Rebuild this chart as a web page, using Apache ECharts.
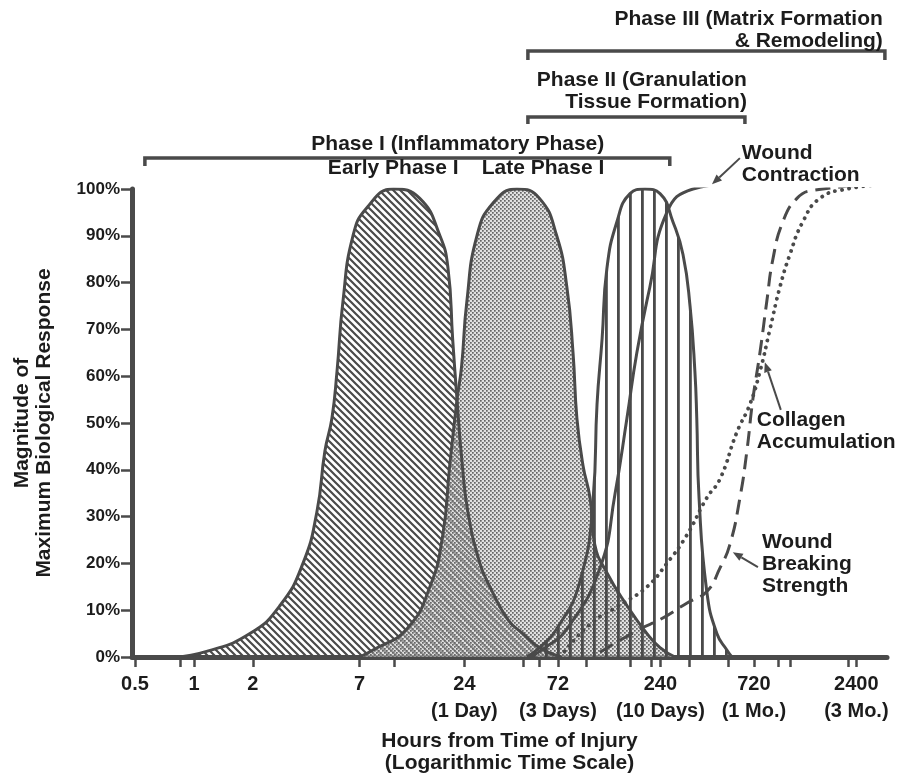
<!DOCTYPE html>
<html><head><meta charset="utf-8">
<script src="https://cdn.jsdelivr.net/npm/echarts@6/dist/echarts.min.js"></script>
<style>html,body{margin:0;padding:0;background:#fff}#c{width:907px;height:774px}</style>
</head><body><div id="c"></div>
<script>
// ---- axis ticks ----
const tickHours = [0.5, 1, 2, 7, 24, 72, 240, 720, 2400];
const tickLabels = ['0.5', '1', '2', '7', '24\n(1 Day)', '72\n(3 Days)', '240\n(10 Days)', '720\n(1 Mo.)', '2400\n(3 Mo.)'];
const minorTickHours = [0.85, 10.5, 48, 58, 100, 168, 215, 336, 530, 960, 1110, 2190];
const xRangeHours = [0.483, 3440];
const yTickValues = [0, 10, 20, 30, 40, 50, 60, 70, 80, 90, 100];

// ---- curves (hours, % of maximum response) ----
const earlyHours = [0.8, 1.16, 1.93, 2.75, 3.6, 4.24, 4.66, 5.06, 5.37, 5.76, 6.48, 7.63, 10.4, 14.2, 18, 19.8, 20.9, 22, 23.3, 25, 28.8, 32.4, 40, 47.7, 58, 74];
const earlyPct   = [0, 1.2, 5, 11, 20, 31, 44, 51, 61, 76, 90, 96, 100, 98, 90, 83, 68, 55, 42, 31, 20, 15, 8, 5, 2, 0];

const lateHours = [7, 8.2, 12.2, 16, 18.6, 20.2, 22, 23.2, 24.7, 27.8, 33.6, 44.5, 58, 71, 80, 86, 90, 96.6, 105, 111, 128, 162, 205, 239, 285];
const latePct   = [0, 1.5, 6, 15, 26, 41, 55, 62, 76, 90, 97, 100, 98, 90, 79, 65, 51, 41, 34, 24, 18, 11, 5, 2, 0];

const phase2Hours = [50, 58, 71, 93, 109, 114, 121, 128, 144, 168, 200, 239, 278, 313, 340, 360, 368, 378, 414, 466, 524, 556];
const phase2Pct   = [0, 2, 6, 16, 34, 54, 68, 83, 93, 99, 100, 99, 93, 86, 75, 61, 51, 34, 14, 5, 1.5, 0];

const contractionHours = [52, 62, 80, 118, 141, 162, 182, 212, 259, 352, 524];
const contractionPct   = [0, 2, 6, 19, 35, 51, 65, 79, 95, 100, 101];

const collagenHours = [74, 105, 155, 205, 259, 327, 414, 483, 589, 687, 773, 869, 977, 1099, 1280, 1563, 2146, 3356];
const collagenPct   = [0, 7, 11.5, 15, 20, 26, 34, 38, 48, 54, 61, 70, 79, 86, 93, 98, 100, 101];

const strengthHours = [118, 189, 239, 327, 414, 483, 543, 611, 663, 711, 773, 838, 900, 1012, 1194, 1439, 3356];
const strengthPct   = [1, 6, 8, 11.5, 14, 19, 24, 34, 44, 55, 65, 76, 85, 93, 98, 99.7, 101];

// ---- phase brackets (hours span, level in % units above the plot) ----
const bracketStartHours = [0.562, 50.6, 50.6];
const bracketEndHours   = [268, 648, 3356];
const bracketLevel      = [106.6, 115.4, 129.5];
const bracketTickPx     = [8, 7, 9];

// ---- text annotations (anchor in hours / %) ----
const noteTexts  = ['Phase III (Matrix Formation\n& Remodeling)', 'Phase II (Granulation\nTissue Formation)', 'Phase I (Inflammatory Phase)', 'Early Phase I', 'Late Phase I', 'Wound\nContraction', 'Collagen\nAccumulation', 'Wound\nBreaking\nStrength'];
const noteHours  = [3275, 663, 22.2, 10.4, 60.4, 625, 745, 791];
const notePct    = [134.0, 120.8, 109.6, 104.5, 104.5, 105.4, 48.3, 19.8];
const noteAlign  = ['right', 'right', 'center', 'center', 'center', 'left', 'left', 'left'];

// ---- arrows (tail -> head, hours / %) ----
const arrowTailHours = [611, 988, 755];
const arrowTailPct   = [106.6, 52.8, 19.2];
const arrowHeadHours = [440, 819, 562];
const arrowHeadPct   = [101, 63, 22.4];

const INK = '#4a4a4a';
const TEXT = '#1c1c1c';
const FONT = '"Liberation Sans", Arial, Helvetica, sans-serif';
const L = Math.log10;
const pts = (h, p) => h.map((v, i) => [L(v), p[i]]);

function makeCanvas(w, h, draw) {
  const c = document.createElement('canvas');
  c.width = w; c.height = h;
  draw(c.getContext('2d'), w, h);
  return c;
}
const diagHatch = makeCanvas(7, 7, (ctx, s) => {
  ctx.strokeStyle = INK; ctx.lineWidth = 2.2;
  ctx.beginPath();
  [-s, 0, s].forEach(o => { ctx.moveTo(o - 1, -1); ctx.lineTo(o + s + 1, s + 1); });
  ctx.stroke();
});
const stipple = makeCanvas(4, 4, (ctx) => {
  ctx.fillStyle = 'rgba(205,205,205,0.6)';
  ctx.fillRect(0, 0, 4, 4);
  ctx.fillStyle = '#666';
  ctx.fillRect(0, 0, 1.7, 1.7);
  ctx.fillRect(2, 2, 1.7, 1.7);
});
const vertHatch = makeCanvas(12, 4, (ctx) => {
  ctx.fillStyle = INK;
  ctx.fillRect(5, 0, 2.8, 4);
});

const chart = echarts.init(document.getElementById('c'), null, { renderer: 'canvas' });

const SMOOTH = 0.5;
const areaSeries = (name, h, p, img) => ({
  type: 'line', name, data: pts(h, p), smooth: SMOOTH,
  showSymbol: false, silent: true, z: 1,
  lineStyle: { opacity: 0 },
  areaStyle: { color: { image: img, repeat: 'repeat' }, opacity: 1 }
});
const lineSeries = (name, h, p, style) => ({
  type: 'line', name, data: pts(h, p), smooth: SMOOTH,
  showSymbol: false, silent: true, z: 3,
  lineStyle: Object.assign({ color: INK, width: 3 }, style)
});

chart.setOption({
  animation: false,
  backgroundColor: '#fff',
  grid: { left: 132, right: 20, top: 189, bottom: 117, containLabel: false, outerBoundsMode: 'none' },
  xAxis: {
    type: 'value', min: L(xRangeHours[0]), max: L(xRangeHours[1]),
    name: 'Hours from Time of Injury\n(Logarithmic Time Scale)',
    nameLocation: 'middle', nameGap: 71,
    nameTextStyle: { fontFamily: FONT, fontWeight: 'bold', fontSize: 21, lineHeight: 22, color: TEXT },
    axisLine: { onZero: false, lineStyle: { color: INK, width: 5 } },
    splitLine: { show: false },
    axisTick: { customValues: tickHours.concat(minorTickHours).map(L), length: 10, lineStyle: { color: INK, width: 2.5 } },
    axisLabel: {
      customValues: tickHours.map(L), margin: 14,
      fontFamily: FONT, fontWeight: 'bold', fontSize: 20, lineHeight: 27, color: TEXT,
      formatter: v => { const i = tickHours.findIndex(h => Math.abs(L(h) - v) < 1e-6); return i >= 0 ? tickLabels[i] : ''; }
    }
  },
  yAxis: {
    type: 'value', min: 0, max: 100, interval: 10,
    name: 'Magnitude of\nMaximum Biological Response',
    nameLocation: 'middle', nameGap: 77,
    nameTextStyle: { fontFamily: FONT, fontWeight: 'bold', fontSize: 21, lineHeight: 22, color: TEXT },
    axisLine: { show: true, onZero: false, lineStyle: { color: INK, width: 5 } },
    splitLine: { show: false },
    axisTick: { show: true, customValues: yTickValues, length: 11, lineStyle: { color: INK, width: 2.5 } },
    axisLabel: { customValues: yTickValues, margin: 12, formatter: '{value}%', fontFamily: FONT, fontWeight: 'bold', fontSize: 17, color: TEXT }
  },
  series: [
    areaSeries('Early Phase I', earlyHours, earlyPct, diagHatch),
    areaSeries('Late Phase I', lateHours, latePct, stipple),
    areaSeries('Phase II', phase2Hours, phase2Pct, vertHatch),
    lineSeries('Early Phase I outline', earlyHours, earlyPct, {}),
    lineSeries('Late Phase I outline', lateHours, latePct, {}),
    lineSeries('Phase II outline', phase2Hours, phase2Pct, {}),
    lineSeries('Wound Contraction', contractionHours, contractionPct, {}),
    lineSeries('Collagen Accumulation', collagenHours, collagenPct, { type: [0.1, 7], cap: 'round', width: 3.8 }),
    lineSeries('Wound Breaking Strength', strengthHours, strengthPct, { type: [15, 8], width: 3 })
  ]
});

// ---- annotations placed through the chart's own scales ----
const px = (h, p) => chart.convertToPixel({ gridIndex: 0 }, [L(h), p]);
const g = [];
bracketStartHours.forEach((h0, i) => {
  const a = px(h0, bracketLevel[i]);
  const b = px(bracketEndHours[i], bracketLevel[i]);
  const t = bracketTickPx[i];
  g.push({ type: 'polyline', silent: true, z: 10,
    shape: { points: [[a[0], a[1] + t], [a[0], a[1]], [b[0], b[1]], [b[0], b[1] + t]] },
    style: { stroke: INK, lineWidth: 3.5, fill: null } });
});
noteTexts.forEach((txt, i) => {
  const p = px(noteHours[i], notePct[i]);
  g.push({ type: 'text', silent: true, z: 10, x: p[0], y: p[1],
    style: { text: txt, font: 'bold 21px ' + FONT, fill: TEXT, align: noteAlign[i], verticalAlign: 'middle', lineHeight: 22 } });
});
arrowTailHours.forEach((h, i) => {
  const a = px(h, arrowTailPct[i]);
  const b = px(arrowHeadHours[i], arrowHeadPct[i]);
  const dx = b[0] - a[0], dy = b[1] - a[1], len = Math.hypot(dx, dy);
  const ux = dx / len, uy = dy / len, hl = 10, hw = 4;
  const base = [b[0] - ux * hl, b[1] - uy * hl];
  g.push({ type: 'line', silent: true, z: 10, shape: { x1: a[0], y1: a[1], x2: base[0], y2: base[1] }, style: { stroke: INK, lineWidth: 2 } });
  g.push({ type: 'polygon', silent: true, z: 10,
    shape: { points: [b, [base[0] - uy * hw, base[1] + ux * hw], [base[0] + uy * hw, base[1] - ux * hw]] },
    style: { fill: INK } });
});
chart.setOption({ graphic: g });
</script>
</body></html>
